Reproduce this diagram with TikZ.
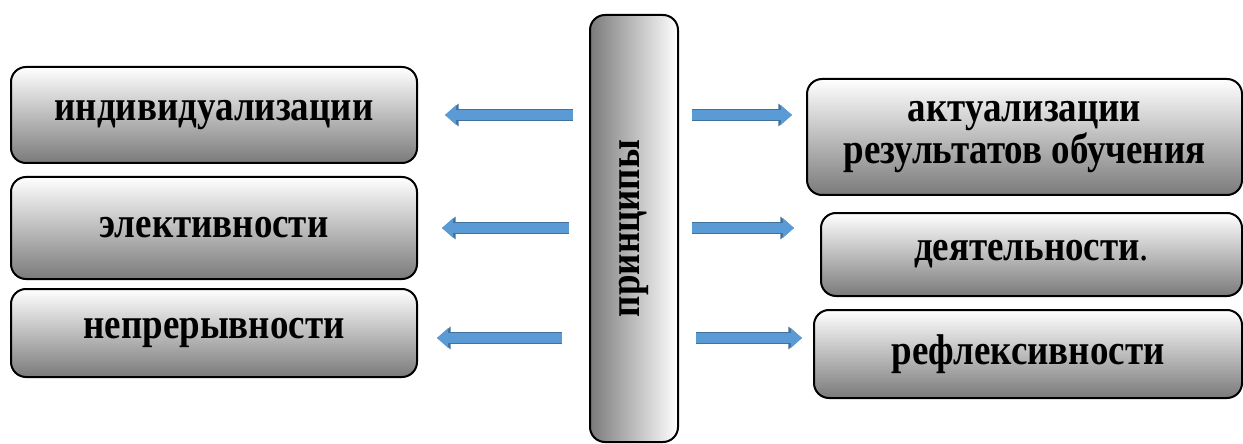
\documentclass[tikz,border=0pt]{standalone}
\usepackage{fontspec}
\setmainfont{Liberation Serif}[FakeStretch=0.86]
\usetikzlibrary{arrows.meta}

\definecolor{arrowblue}{HTML}{5B9BD5}
\definecolor{arrowedge}{HTML}{41719C}

\tikzset{
  princbox/.style={draw=black, line width=1pt, rounded corners=7.5pt,
    top color=white, middle color=black!14, bottom color=black!52,
    inner sep=0pt, align=center,
    font=\bfseries\fontsize{21.5}{20}\selectfont},
  blockarrow/.style={line width=4.6pt, draw=arrowblue,
    -{Triangle[length=5.6pt, width=9.6pt]},
    preaction={draw=arrowedge, line width=6pt,
      -{Triangle[length=6.8pt, width=11pt]}}}
}

\begin{document}
\begin{tikzpicture}[x=0.5pt, y=-0.5pt]
        \useasboundingbox (0,0) rectangle (1243,444);

        % --- PRINCIPI A SINISTRA ---
        \node[princbox, minimum width=203pt, minimum height=48pt] (l1) at (214,115) {индивидуализации};
        \node[princbox, minimum width=203pt, minimum height=51pt] (l2) at (214,228) {элективности};
        \node[princbox, minimum width=203pt, minimum height=44pt] (l3) at (214,333) {непрерывности};

        % --- BLOCCO CENTRALE (sfumatura orizzontale) ---
        \node[princbox, left color=black!52, middle color=black!22, right color=white,
              minimum width=44pt, minimum height=213.5pt] (c) at (634,228.5) {};
        \node[font=\bfseries\fontsize{21.5}{20}\selectfont, rotate=90] (ctext) at (c.center) {принципы};

        % --- PRINCIPI A DESTRA ---
        \node[princbox, minimum width=217.5pt, minimum height=58pt] (r1) at (1024.5,137) {актуализации\\результатов обучения};
        \node[princbox, minimum width=210.5pt, minimum height=41.5pt] (r2) at (1031.5,254.5) {деятельности{\mdseries .}};
        \node[princbox, minimum width=214pt, minimum height=44pt] (r3) at (1028,354) {рефлексивности};

        % righe delle frecce
        \coordinate (row1) at (0,115);
        \coordinate (row2) at (0,228);
        \coordinate (row3) at (0,338);

        % --- FRECCE ---
        \draw[blockarrow, shorten <=8pt, shorten >=13.5pt] (c.west |- row1) -- (l1.east |- row1);
        \draw[blockarrow, shorten <=10pt, shorten >=12pt] (c.west |- row2) -- (l2.east |- row2);
        \draw[blockarrow, shorten <=13.5pt, shorten >=9.5pt] (c.west |- row3) -- (l3.east |- row3);

        \draw[blockarrow, shorten <=6.5pt, shorten >=7pt] (c.east |- row1) -- (r1.west |- row1);
        \draw[blockarrow, shorten <=6.5pt, shorten >=13pt] (c.east |- row2) -- (r2.west |- row2);
        \draw[blockarrow, shorten <=8.5pt, shorten >=5.5pt] (c.east |- row3) -- (r3.west |- row3);

    \end{tikzpicture}
\end{document}
